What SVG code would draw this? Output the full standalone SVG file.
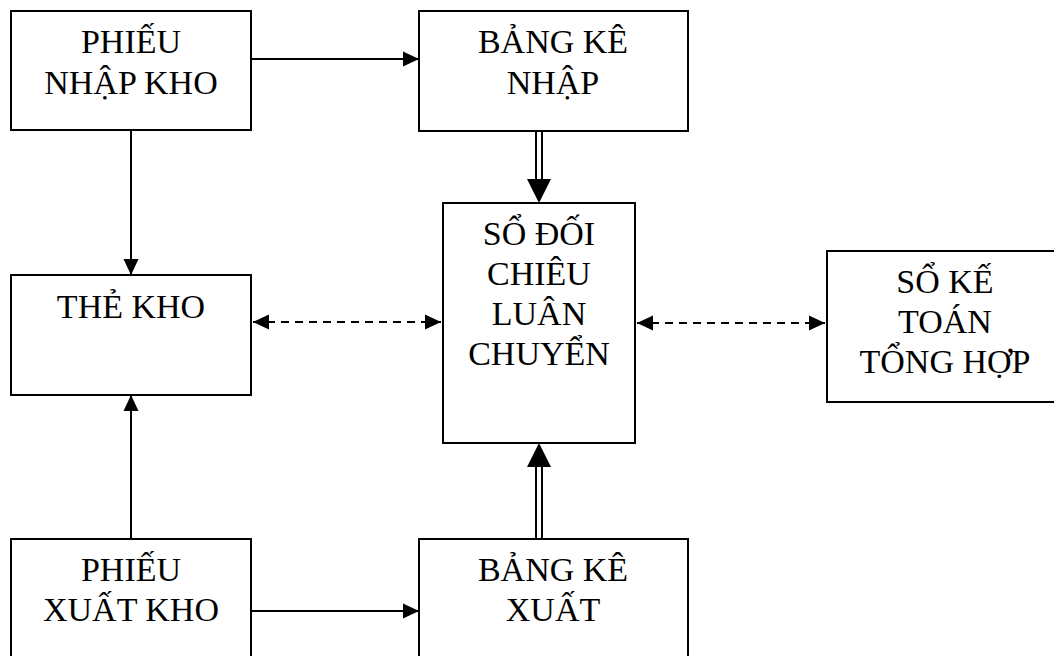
<svg xmlns="http://www.w3.org/2000/svg" width="1054" height="656" viewBox="0 0 1054 656">
  <style>
    .box { fill: #ffffff; stroke: #000000; stroke-width: 2; }
    .lbl { font-family: "Liberation Serif", "Times New Roman", serif; font-size: 34px; fill: #000000; text-anchor: middle; }
    .ln { fill: none; stroke: #000000; stroke-width: 2; }
    .dash { fill: none; stroke: #000000; stroke-width: 2; stroke-dasharray: 8 6; }
    .head { fill: #000000; stroke: none; }
  </style>
  <defs>
    <marker id="arr" viewBox="0 0 16 16" refX="16" refY="8" markerWidth="16" markerHeight="16" markerUnits="userSpaceOnUse" orient="auto-start-reverse">
      <path d="M0,0.5 L16,8 L0,15.5 Z" fill="#000000"/>
    </marker>
  </defs>

  <rect width="1054" height="656" fill="#ffffff"/>

  <!-- connectors -->
  <g id="connectors">
    <!-- receipt slip to receipt list -->
    <line class="ln" x1="251" y1="59" x2="419" y2="59" marker-end="url(#arr)"/>
    <!-- receipt slip down to stock card -->
    <line class="ln" x1="131" y1="130" x2="131" y2="275" marker-end="url(#arr)"/>
    <!-- issue slip up to stock card -->
    <line class="ln" x1="131" y1="539" x2="131" y2="395" marker-end="url(#arr)"/>
    <!-- issue slip to issue list -->
    <line class="ln" x1="251" y1="611" x2="419" y2="611" marker-end="url(#arr)"/>
    <!-- dashed two-way links -->
    <line class="dash" x1="253" y1="322" x2="441" y2="322" marker-start="url(#arr)" marker-end="url(#arr)"/>
    <line class="dash" x1="637" y1="323" x2="825" y2="323" marker-start="url(#arr)" marker-end="url(#arr)"/>
    <!-- double-line arrow: receipt list down to ledger -->
    <line class="ln" x1="536" y1="131" x2="536" y2="180"/>
    <line class="ln" x1="542" y1="131" x2="542" y2="180"/>
    <path class="head" d="M527,179 L551,179 L539,203 Z"/>
    <!-- double-line arrow: issue list up to ledger -->
    <line class="ln" x1="536" y1="539" x2="536" y2="466"/>
    <line class="ln" x1="542" y1="539" x2="542" y2="466"/>
    <path class="head" d="M527,467 L551,467 L539,443 Z"/>
  </g>

  <g id="phieu-nhap-kho">
    <rect class="box" x="11" y="11" width="240" height="119"/>
    <text class="lbl" x="131" y="53">PHIẾU</text>
    <text class="lbl" x="131" y="94">NHẬP KHO</text>
  </g>

  <g id="bang-ke-nhap">
    <rect class="box" x="419" y="11" width="269" height="120"/>
    <text class="lbl" x="553" y="53">BẢNG KÊ</text>
    <text class="lbl" x="553" y="94">NHẬP</text>
  </g>

  <g id="the-kho">
    <rect class="box" x="11" y="275" width="240" height="120"/>
    <text class="lbl" x="131" y="318">THẺ KHO</text>
  </g>

  <g id="so-doi-chieu">
    <rect class="box" x="443" y="203" width="192" height="240"/>
    <text class="lbl" x="539" y="245">SỔ ĐỐI</text>
    <text class="lbl" x="539" y="285">CHIÊU</text>
    <text class="lbl" x="539" y="325">LUÂN</text>
    <text class="lbl" x="539" y="365">CHUYỂN</text>
  </g>

  <g id="so-ke-toan">
    <rect class="box" x="827" y="251" width="240" height="151"/>
    <text class="lbl" x="945" y="293">SỔ KẾ</text>
    <text class="lbl" x="945" y="333">TOÁN</text>
    <text class="lbl" x="945" y="373">TỔNG HỢP</text>
  </g>

  <g id="phieu-xuat-kho">
    <rect class="box" x="11" y="539" width="240" height="125"/>
    <text class="lbl" x="131" y="581">PHIẾU</text>
    <text class="lbl" x="131" y="621">XUẤT KHO</text>
  </g>

  <g id="bang-ke-xuat">
    <rect class="box" x="419" y="539" width="269" height="125"/>
    <text class="lbl" x="553" y="581">BẢNG KÊ</text>
    <text class="lbl" x="553" y="621">XUẤT</text>
  </g>
</svg>
